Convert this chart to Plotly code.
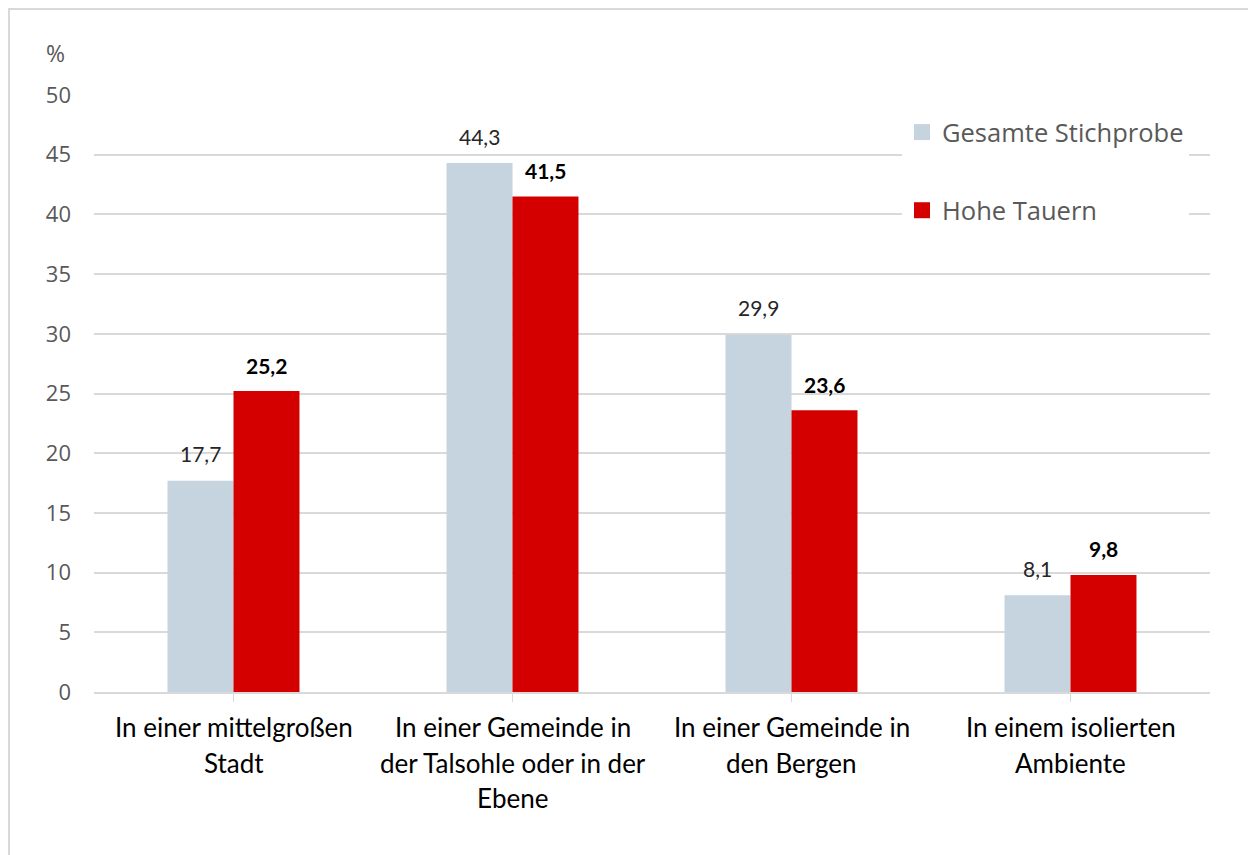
import plotly.graph_objects as go

categories = ["In einer mittelgroßen<br>Stadt",
              "In einer Gemeinde in<br>der Talsohle oder in der<br>Ebene",
              "In einer Gemeinde in<br>den Bergen",
              "In einem isolierten<br>Ambiente"]
series_names = ["Gesamte Stichprobe", "Hohe Tauern"]
gesamt = [17.7, 44.3, 29.9, 8.1]
tauern = [25.2, 41.5, 23.6, 9.8]
y_ticks = [0, 5, 10, 15, 20, 25, 30, 35, 40, 45, 50]

W, H = 1256, 855
OFF = 8  # page body margin
L, T = 94 - OFF, 95 - OFF
R = W - (1210 - OFF)
B = H - (692 - OFF)
plot_w = W - L - R
ph = H - T - B


def px(xp):
    return (xp - OFF - L) / plot_w


def py(yp):
    return (T + ph - (yp - OFF)) / ph


GREY = "#c5d4de"
RED = "#d40000"
LABEL_FONT = "Lato"
TICK_FONT = "Open Sans"


def fmt(v):
    return f"{v:.1f}".replace(".", ",")


xs = list(range(len(categories)))
fig = go.Figure()
fig.add_trace(go.Bar(x=xs, y=gesamt, name=series_names[0], marker_color=GREY,
                     marker_line_width=0, showlegend=False))
fig.add_trace(go.Bar(x=xs, y=tauern, name=series_names[1], marker_color=RED,
                     marker_line_width=0, showlegend=False))
for name, col in zip(series_names, [GREY, RED]):
    fig.add_trace(go.Scatter(x=[None], y=[None], mode="markers", name=name,
                             legendgroup=name,
                             marker=dict(symbol="square", size=16, color=col)))

bargap = 0.527
cat_w = plot_w / len(categories)
bar_w = cat_w * (1 - bargap) / 2

annotations = []
for i in xs:
    annotations.append(dict(x=i, y=gesamt[i], xref="x", yref="y", text=fmt(gesamt[i]),
                            showarrow=False, xshift=-bar_w / 2, yshift=27, yanchor="middle",
                            font=dict(family=LABEL_FONT, size=21, color="#262626")))
    annotations.append(dict(x=i, y=tauern[i], xref="x", yref="y", text="<b>" + fmt(tauern[i]) + "</b>",
                            showarrow=False, xshift=bar_w / 2, yshift=26, yanchor="middle",
                            font=dict(family=LABEL_FONT, size=21, color="#000000")))
    for j, line in enumerate(categories[i].split("<br>")):
        annotations.append(dict(x=i, y=0, xref="x", yref="y", text=line, showarrow=False,
                                yanchor="middle", yshift=-(35 + 35.5 * j),
                                font=dict(family=LABEL_FONT, size=26, color="#000000")))

annotations.append(dict(x=px(44), y=py(53), xref="paper", yref="paper", text="%",
                        showarrow=False, xanchor="left", yanchor="middle",
                        font=dict(family=TICK_FONT, size=23, color="#595959")))

shapes = [dict(type="rect", xref="paper", yref="paper",
               x0=px(OFF + 1), x1=px(W + 40), y0=py(H + 40), y1=py(OFF + 1),
               line=dict(color="#d9d9d9", width=2), fillcolor="rgba(0,0,0,0)", layer="below")]

fig.update_layout(
    width=W, height=H,
    margin=dict(l=L, r=R, t=T, b=B, autoexpand=False),
    paper_bgcolor="white", plot_bgcolor="white",
    barmode="group", bargap=bargap, bargroupgap=0,
    annotations=annotations, shapes=shapes,
    legend=dict(x=px(902), y=py(109), xanchor="left", yanchor="top",
                bgcolor="white", tracegroupgap=42,
                font=dict(family=TICK_FONT, size=25.5, color="#595959")),
    xaxis=dict(range=[-0.5, len(categories) - 0.5], tickvals=xs, showticklabels=False,
               ticks="outside", tickson="boundaries", ticklen=8, tickcolor="#d9d9d9",
               showline=True, linecolor="#d9d9d9", linewidth=2, showgrid=False, zeroline=False),
    yaxis=dict(range=[0, 50], tickvals=y_ticks, showgrid=True, gridcolor="#d9d9d9", gridwidth=2,
               zeroline=False, showline=False, ticks="", ticklabelstandoff=22,
               tickfont=dict(family=TICK_FONT, size=22, color="#595959")),
)

fig.write_html("out.html")
